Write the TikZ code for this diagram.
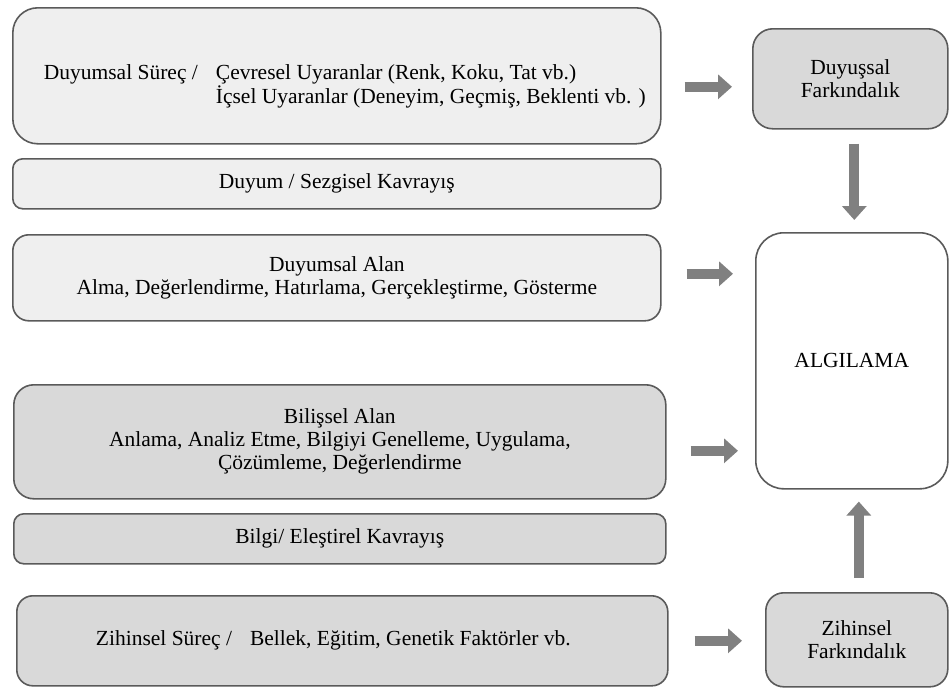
\documentclass[tikz,border=0pt]{standalone}
\usepackage{fontspec}
\setmainfont{Liberation Serif}
\usetikzlibrary{arrows.meta}
\definecolor{edgegrey}{HTML}{5A5A5A}
\definecolor{palefill}{HTML}{EFEFEF}
\definecolor{greyfill}{HTML}{D9D9D9}
\definecolor{arrowgrey}{HTML}{808080}

\begin{document}
\begin{tikzpicture}[
	x=1pt, y=-1pt,
	every node/.style={draw=edgegrey, line width=1.6pt, align=center, inner sep=0pt, anchor=north west, font=\fontsize{21.5}{23}\selectfont},
	pale/.style={fill=palefill},
	grey/.style={fill=greyfill},
	bigarrow/.style={draw=arrowgrey, line width=10pt, -{Triangle[length=14pt,width=24pt]}}
	]
	\useasboundingbox (0,0) rectangle (949,688);
	\node[pale, rounded corners=25pt, minimum width=648pt, minimum height=136pt] (b1) at (12,7)
		{\hspace*{16pt}\raisebox{-11pt}[\height][\depth]{\begin{tabular}{@{}l@{\hspace{18pt}}l@{}}Duyumsal Süreç / & Çevresel Uyaranlar (Renk, Koku, Tat vb.)\\ & İçsel Uyaranlar (Deneyim, Geçmiş, Beklenti vb. )\end{tabular}}};
	\node[pale, rounded corners=10pt, minimum width=648pt, minimum height=50pt] (b2) at (12,158)
		{Duyum / Sezgisel Kavrayış};
	\node[pale, rounded corners=16pt, minimum width=648pt, minimum height=86pt] (b3) at (12,234)
		{Duyumsal Alan\\Alma, Değerlendirme, Hatırlama, Gerçekleştirme, Gösterme};
	\node[grey, rounded corners=20pt, minimum width=652pt, minimum height=114pt] (b4) at (13,384)
		{Bilişsel Alan\\Anlama, Analiz Etme, Bilgiyi Genelleme, Uygulama,\\Çözümleme, Değerlendirme};
	\node[grey, rounded corners=10pt, minimum width=652pt, minimum height=50pt] (b5) at (13,513)
		{Bilgi/ Eleştirel Kavrayış};
	\node[grey, rounded corners=16pt, minimum width=651pt, minimum height=90pt] (b6) at (16,595)
		{Zihinsel Süreç /\hspace{18pt}Bellek, Eğitim, Genetik Faktörler vb.\hspace*{18pt}};
	\node[grey, rounded corners=20pt, minimum width=195pt, minimum height=100pt] (duy) at (752,28)
		{Duyuşsal\\Farkındalık};
	\node[fill=white, rounded corners=28pt, minimum width=192pt, minimum height=256pt] (alg) at (755,232)
		{ALGILAMA};
	\node[grey, rounded corners=18pt, minimum width=182pt, minimum height=94pt] (zf) at (765,592)
		{Zihinsel\\Farkındalık};
	\draw[bigarrow, shorten <=23pt, shorten >=20pt] ([yshift=-11pt]b1.east) -- ([yshift=-11pt]b1.east -| duy.west);
	\draw[bigarrow, shorten <=25pt, shorten >=22pt] ([yshift=4pt]b3.east) -- ([yshift=4pt]b3.east -| alg.west);
	\draw[bigarrow, shorten <=24pt, shorten >=17pt] ([yshift=-9pt]b4.east) -- ([yshift=-9pt]b4.east -| alg.west);
	\draw[bigarrow, shorten <=26pt, shorten >=23pt] (b6.east) -- (b6.east -| zf.west);
	\draw[bigarrow, shorten <=14pt, shorten >=12pt] ([xshift=4pt]duy.south) -- ([xshift=4pt]duy.south |- alg.north);
	\draw[bigarrow, shorten <=14pt, shorten >=12pt] ([xshift=2pt]zf.north) -- ([xshift=2pt]zf.north |- alg.south);
\end{tikzpicture}
\end{document}
